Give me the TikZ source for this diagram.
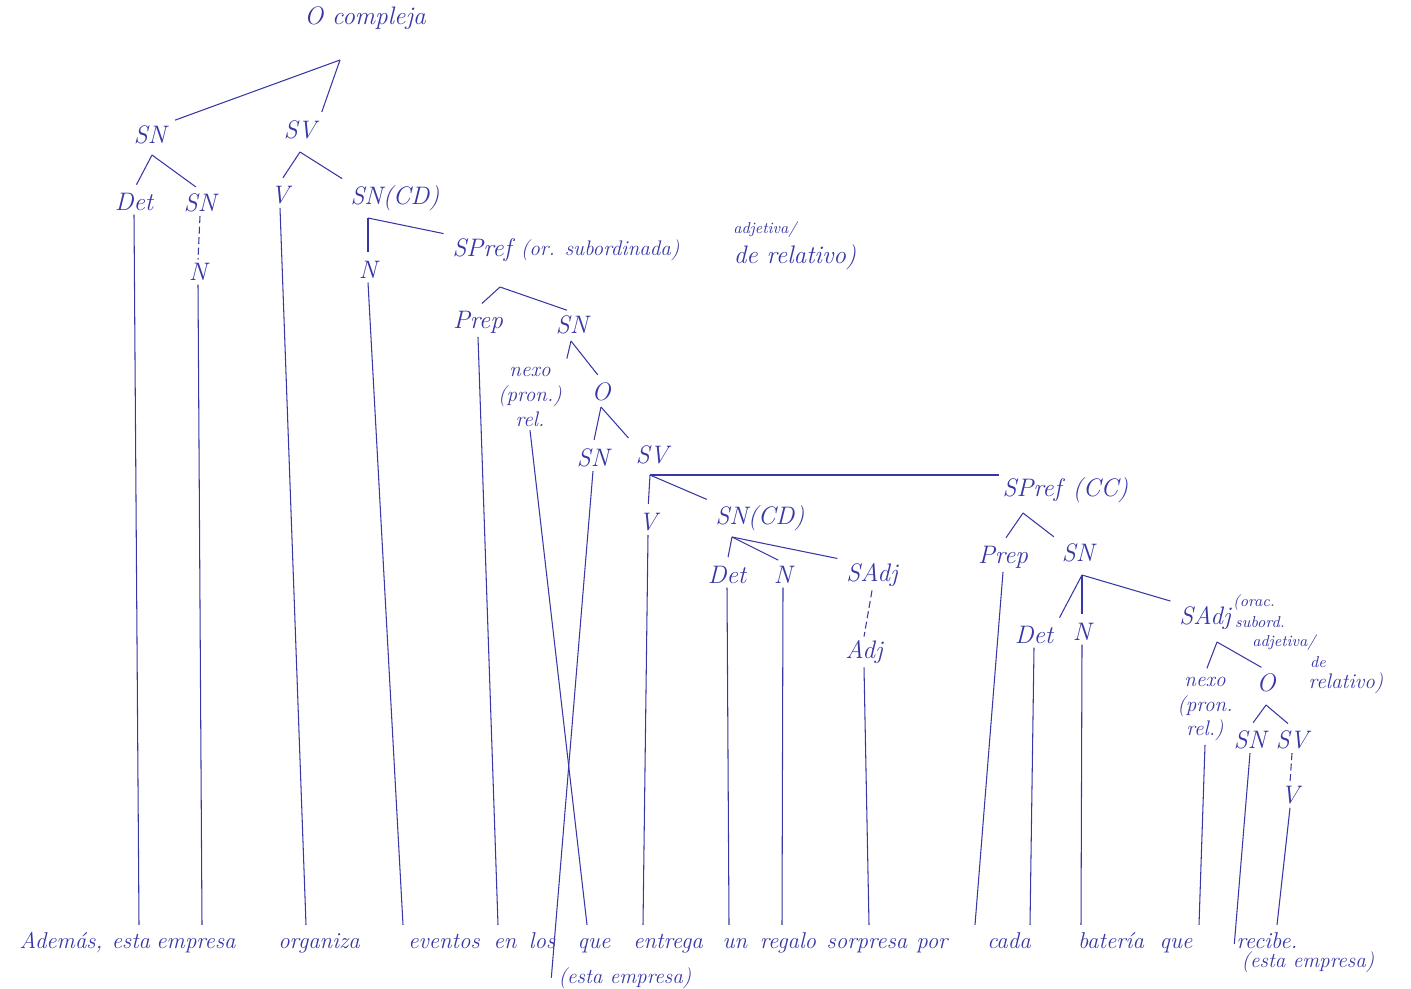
\documentclass[tikz,border=0pt]{standalone}
\usepackage{fontspec}
\usepackage{tikz}
\usetikzlibrary{positioning}

% Ink colour of the drawing
\definecolor{ink}{RGB}{55,55,165}

\begin{document}
\begin{tikzpicture}[x=0.2mm, y=-0.2mm,
  catnode/.style={font=\Large\itshape, text=ink, inner sep=2pt},
  subnode/.style={font=\large\itshape, text=ink, inner sep=2pt, align=center},
  notetext/.style={font=\small\itshape, text=ink, inner sep=0pt},
  wordnode/.style={font=\fontsize{13}{15}\selectfont\itshape, text=ink, anchor=base, text height=9pt, text depth=3pt, inner sep=4pt},
  brline/.style={draw=ink, line width=0.6pt, shorten >=3pt},
  leafline/.style={draw=ink, line width=0.6pt},
  dashline/.style={draw=ink, line width=0.6pt, dash pattern=on 4pt off 2pt}]

% Fix the page size
\useasboundingbox (0,0) rectangle (1411,988);

% Top of the tree
\node[catnode] (root) at (365,18) {O compleja};
\node[catnode] (sn1) at (150,135) {SN};
\node[catnode] (sv1) at (300,130) {SV};

% Subject
\node[catnode] (det1) at (134,202) {Det};
\node[catnode] (sn2) at (200,203) {SN};
\node[catnode] (n1) at (198,272) {N};

% Predicate
\node[catnode] (v1) at (280,195) {V};
\node[catnode] (sncd1) at (395,198) {SN(CD)};
\node[catnode] (n2) at (368,270) {N};

% Relative clause of the first SN(CD)
\node[catnode] (spref1) at (482,250) {SPref};
\node[subnode, right=1pt of spref1] (spref1-note) {(or. subordinada)};
\node[notetext] (spref1-adj) at (765,230) {adjetiva/};
\node[catnode] (spref1-rel) at (795,257) {de relativo)};
\node[catnode] (prep1) at (478,322) {Prep};
\node[catnode] (sn3) at (572,325) {SN};
\node[subnode] (nexo1) at (530,397) {nexo\\(pron.)\\rel.};
\node[catnode] (o1) at (601,392) {O};
\node[catnode] (sn4) at (593,458) {SN};
\node[catnode] (sv2) at (652,455) {SV};

% Inner predicate
\node[catnode] (v2) at (648,522) {V};
\node[catnode] (sncd2) at (760,518) {SN(CD)};
\node[catnode] (det2) at (727,575) {Det};
\node[catnode] (n3) at (783,575) {N};
\node[catnode] (sadj1) at (872,575) {SAdj};
\node[catnode] (adj1) at (864,652) {Adj};

% Complement of circumstance
\node[catnode] (spref2) at (1032,490) {SPref};
\node[catnode, right=2pt of spref2] (spref2-note) {(CC)};
\node[catnode] (prep2) at (1003,557) {Prep};
\node[catnode] (sn5) at (1078,553) {SN};
\node[catnode] (det3) at (1034,635) {Det};
\node[catnode] (n4) at (1082,632) {N};
\node[catnode] (sadj2) at (1205,618) {SAdj};
\node[notetext] (sadj2-a) at (1254,603) {(orac.};
\node[notetext] (sadj2-b) at (1260,622) {subord.};
\node[notetext] (sadj2-c) at (1284,643) {adjetiva/};
\node[notetext] (sadj2-d) at (1318,662) {de};
\node[subnode] (sadj2-e) at (1346,683) {relativo)};
\node[subnode] (nexo2) at (1205,709) {nexo\\(pron.\\rel.)};
\node[catnode] (o2) at (1266,683) {O};
\node[catnode] (sn6) at (1250,740) {SN};
\node[catnode] (sv3) at (1292,740) {SV};
\node[catnode] (v3) at (1290,795) {V};

% The sentence
\node[wordnode] (w-ademas) at (61,948) {Además,};
\node[wordnode] (w-esta) at (131,948) {esta};
\node[wordnode] (w-empresa) at (196,948) {empresa};
\node[wordnode] (w-organiza) at (319,948) {organiza};
\node[wordnode] (w-eventos) at (444,948) {eventos};
\node[wordnode] (w-en) at (505,948) {en};
\node[wordnode] (w-los) at (542,948) {los};
\node[wordnode] (w-que1) at (594,948) {que};
\node[wordnode] (w-entrega) at (668,948) {entrega};
\node[wordnode] (w-un) at (735,948) {un};
\node[wordnode] (w-regalo) at (788,948) {regalo};
\node[wordnode] (w-sorpresa) at (867,948) {sorpresa};
\node[wordnode] (w-por) at (932,948) {por};
\node[wordnode] (w-cada) at (1009,948) {cada};
\node[wordnode] (w-bateria) at (1111,948) {batería};
\node[wordnode] (w-que2) at (1176,948) {que};
\node[wordnode] (w-recibe) at (1267,948) {recibe.};
\node[wordnode, font=\large\itshape] (esta1) at (625,983) {(esta empresa)};
\node[wordnode, font=\large\itshape] (esta2) at (1308,967) {(esta empresa)};

% Branching points
\coordinate (root-v) at (340,60);
\coordinate (sn1-v) at (152,155);
\coordinate (sv1-v) at (300,152);
\coordinate (sncd1-v) at (368,218);
\coordinate (spref1-v) at (500,287);
\coordinate (sn3-v) at (571,341);
\coordinate (o1-v) at (601,407);
\coordinate (sv2-v) at (650,475);
\coordinate (sncd2-v) at (732,537);
\coordinate (spref2-v) at (1023,513);
\coordinate (sn5-v) at (1082,575);
\coordinate (sadj2-v) at (1217,642);
\coordinate (o2-v) at (1266,705);

% Branches
\draw[brline] (root-v) -- (sn1.north east);
\draw[brline] (root-v) -- (sv1.north east);
\draw[brline] (sn1-v) -- (det1.north);
\draw[brline] (sn1-v) -- (sn2.north);
\draw[brline] (sv1-v) -- (v1.north);
\draw[brline] (sv1-v) -- (sncd1.north west);
\draw[brline] (sncd1-v) -- (n2.north);
\draw[brline] (sncd1-v) -- (spref1.north west);
\draw[brline] (spref1-v) -- (prep1.north);
\draw[brline] (spref1-v) -- (sn3.north);
\draw[brline] (sn3-v) -- (nexo1.north east);
\draw[brline] (sn3-v) -- (o1.north);
\draw[brline] (o1-v) -- (sn4.north);
\draw[brline] (o1-v) -- (sv2.north west);
\draw[brline] (sv2-v) -- (v2.north);
\draw[brline] (sv2-v) -- (sncd2.north west);
\draw[leafline] (sv2-v) -- (sv2-v -| spref2.west);
\draw[brline] (sncd2-v) -- (det2.north);
\draw[brline] (sncd2-v) -- (n3.north);
\draw[brline] (sncd2-v) -- (sadj1.north west);
\draw[brline] (spref2-v) -- (prep2.north);
\draw[brline] (spref2-v) -- (sn5.north west);
\draw[brline] (sn5-v) -- (det3.north east);
\draw[brline] (sn5-v) -- (n4.north);
\draw[brline] (sn5-v) -- (sadj2.north west);
\draw[brline] (sadj2-v) -- (nexo2.north);
\draw[brline] (sadj2-v) -- (o2.north);
\draw[brline] (o2-v) -- (sn6.north);
\draw[brline] (o2-v) -- (sv3.north);

% Unary branches
\draw[dashline] (sn2.south) -- (n1.north);
\draw[dashline] (sadj1.south) -- (adj1.north);
\draw[dashline] (sv3.south) -- (v3.north);

% Lines down to the words
\draw[leafline] (det1.south) -- ([shift={(8,0)}]w-esta.north);
\draw[leafline] (n1.south) -- ([shift={(6,0)}]w-empresa.north);
\draw[leafline] (v1.south) -- ([shift={(-13,0)}]w-organiza.north);
\draw[leafline] (n2.south) -- ([shift={(-41,0)}]w-eventos.north);
\draw[leafline] (prep1.south) -- ([shift={(-7,0)}]w-en.north);
\draw[leafline] (nexo1.south) -- ([shift={(-7,0)}]w-que1.north);
\draw[leafline] (sn4.south) -- (esta1.west);
\draw[leafline] (v2.south) -- ([shift={(-25,0)}]w-entrega.north);
\draw[leafline] (det2.south) -- ([shift={(-6,0)}]w-un.north);
\draw[leafline] (n3.south) -- ([shift={(-6,0)}]w-regalo.north);
\draw[leafline] (adj1.south) -- ([shift={(2,0)}]w-sorpresa.north);
\draw[leafline] (prep2.south) -- ([shift={(43,0)}]w-por.north);
\draw[leafline] (det3.south) -- ([shift={(21,0)}]w-cada.north);
\draw[leafline] (n4.south) -- ([shift={(-30,0)}]w-bateria.north);
\draw[leafline] (nexo2.south) -- ([shift={(23,0)}]w-que2.north);
\draw[leafline] (sn6.south) -- (esta2.north west);
\draw[leafline] (v3.south) -- ([shift={(10,0)}]w-recibe.north);

\end{tikzpicture}
\end{document}
